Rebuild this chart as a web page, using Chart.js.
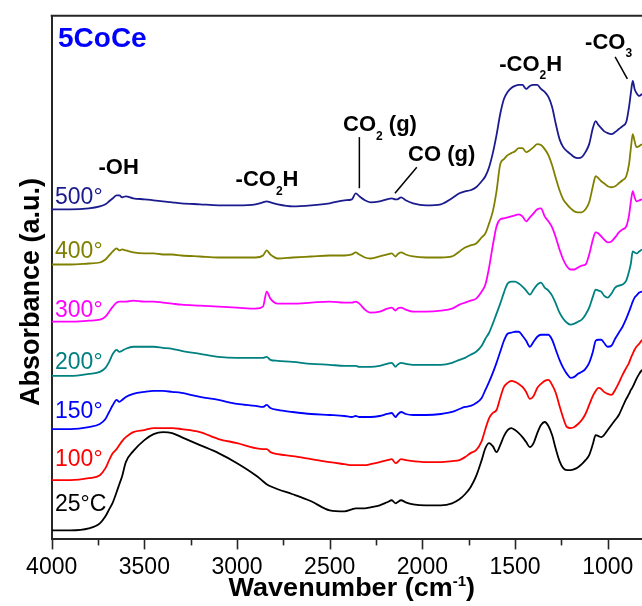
<!DOCTYPE html>
<html>
<head>
<meta charset="utf-8">
<title>5CoCe DRIFTS</title>
<script src="https://cdn.jsdelivr.net/npm/chart.js@4.4.1/dist/chart.umd.min.js"></script>
<style>
  html, body { margin: 0; padding: 0; background: #fff; overflow: hidden; }
  canvas { display: block; }
</style>
</head>
<body>
<canvas id="spectra" width="642" height="606"></canvas>
<script>
// wavenumber grid (cm-1), shared by every spectrum
const wavenumbers = [
  4000, 3900, 3800, 3740, 3710, 3690, 3670, 3650, 3635, 3620, 3600, 3560, 3500, 3450, 3400, 3350, 3300,
  3200, 3100, 3000, 2900, 2860, 2840, 2820, 2780, 2700, 2600, 2500,
  2420, 2380, 2360, 2340, 2310, 2280, 2230, 2190, 2165, 2145, 2135, 2115, 2090, 2050, 1980, 1900,
  1840, 1800, 1770, 1740, 1710, 1680, 1660, 1640, 1620, 1600,
  1580, 1560, 1540, 1520, 1500, 1480, 1460, 1440, 1420, 1400, 1380, 1360, 1340, 1320, 1300, 1280, 1260, 1240, 1220, 1200,
  1180, 1160, 1140, 1120, 1100, 1080,
  1065, 1050, 1035, 1020,
  1000, 980, 960, 940, 920,
  900, 885, 875, 865, 855, 845, 830, 815
];

// absorbance (a.u., stacked) for each temperature
const abs25 = [
  0.09, 0.09, 0.11, 0.16, 0.23, 0.30, 0.37, 0.47, 0.55, 0.63, 0.77, 0.88, 0.99, 1.05, 1.07, 1.06, 1.02,
  0.94, 0.86, 0.76, 0.64, 0.58, 0.55, 0.53, 0.50, 0.45, 0.38, 0.29,
  0.28, 0.30, 0.31, 0.31, 0.31, 0.32, 0.34, 0.37, 0.39, 0.36, 0.37, 0.39, 0.37, 0.35, 0.34, 0.34,
  0.36, 0.40, 0.45, 0.52, 0.63, 0.79, 0.91, 0.96, 0.93, 0.87,
  0.94, 1.03, 1.09, 1.11, 1.09, 1.06, 1.02, 0.97, 0.92, 0.96, 1.06, 1.14, 1.17, 1.13, 1.04, 0.90, 0.78, 0.71, 0.69, 0.69,
  0.70, 0.72, 0.75, 0.79, 0.84, 0.95,
  1.04, 1.03, 1.02, 1.04,
  1.09, 1.14, 1.19, 1.24, 1.32,
  1.40, 1.45, 1.49, 1.52, 1.56, 1.60, 1.65, 1.69
];
const abs100 = [
  0.59, 0.59, 0.61, 0.64, 0.71, 0.79, 0.86, 0.90, 0.94, 0.98, 1.02, 1.07, 1.09, 1.11, 1.11, 1.11, 1.10,
  1.07, 1.00, 0.96, 0.91, 0.90, 0.90, 0.87, 0.85, 0.83, 0.80, 0.77,
  0.75, 0.74, 0.74, 0.74, 0.74, 0.75, 0.77, 0.79, 0.80, 0.76, 0.77, 0.80, 0.79, 0.78, 0.77, 0.77,
  0.78, 0.79, 0.82, 0.86, 0.89, 0.98, 1.10, 1.21, 1.26, 1.29,
  1.41, 1.52, 1.56, 1.58, 1.57, 1.55, 1.52, 1.47, 1.40, 1.43, 1.51, 1.55, 1.58, 1.59, 1.54, 1.46, 1.33, 1.21, 1.12, 1.11,
  1.12, 1.15, 1.19, 1.25, 1.34, 1.43,
  1.48, 1.51, 1.50, 1.47,
  1.45, 1.44, 1.49, 1.56, 1.64,
  1.71, 1.76, 1.81, 1.85, 1.89, 1.92, 1.95, 1.99
];
const abs150 = [
  1.10, 1.10, 1.12, 1.15, 1.20, 1.27, 1.34, 1.39, 1.37, 1.39, 1.42, 1.45, 1.47, 1.48, 1.48, 1.47, 1.46,
  1.42, 1.39, 1.35, 1.33, 1.32, 1.34, 1.31, 1.29, 1.27, 1.25, 1.24,
  1.23, 1.22, 1.23, 1.22, 1.22, 1.22, 1.23, 1.25, 1.26, 1.22, 1.24, 1.27, 1.25, 1.24, 1.24, 1.25,
  1.27, 1.30, 1.32, 1.33, 1.36, 1.41, 1.49, 1.57, 1.66, 1.76,
  1.87, 1.98, 2.05, 2.06, 2.07, 2.07, 2.03, 1.98, 1.92, 1.97, 2.02, 2.04, 2.04, 2.04, 1.99, 1.89, 1.79, 1.71, 1.65, 1.61,
  1.62, 1.65, 1.67, 1.70, 1.76, 1.87,
  1.98, 1.99, 1.99, 1.96,
  1.92, 1.93, 2.00, 2.06, 2.12,
  2.20, 2.27, 2.32, 2.37, 2.41, 2.43, 2.46, 2.47
];
const abs200 = [
  1.63, 1.63, 1.65, 1.67, 1.71, 1.77, 1.85, 1.89, 1.87, 1.88, 1.90, 1.92, 1.92, 1.92, 1.91, 1.90, 1.88,
  1.85, 1.82, 1.81, 1.81, 1.81, 1.82, 1.79, 1.78, 1.77, 1.75, 1.74,
  1.73, 1.73, 1.73, 1.72, 1.72, 1.72, 1.73, 1.75, 1.76, 1.72, 1.74, 1.76, 1.75, 1.74, 1.74, 1.74,
  1.76, 1.79, 1.81, 1.84, 1.87, 1.93, 2.00, 2.06, 2.15, 2.25,
  2.35, 2.46, 2.55, 2.57, 2.57, 2.55, 2.52, 2.48, 2.44, 2.49, 2.54, 2.56, 2.51, 2.48, 2.43, 2.35, 2.26, 2.20, 2.16, 2.14,
  2.15, 2.17, 2.19, 2.24, 2.31, 2.42,
  2.49, 2.48, 2.47, 2.43,
  2.41, 2.45, 2.51, 2.53, 2.54,
  2.58, 2.67, 2.75, 2.87, 2.86, 2.85, 2.87, 2.89
];
const abs300 = [
  2.17, 2.17, 2.18, 2.19, 2.22, 2.27, 2.32, 2.36, 2.37, 2.37, 2.37, 2.38, 2.37, 2.37, 2.36, 2.35, 2.34,
  2.33, 2.32, 2.31, 2.30, 2.32, 2.47, 2.40, 2.35, 2.35, 2.36, 2.37,
  2.36, 2.36, 2.37, 2.35, 2.29, 2.26, 2.27, 2.30, 2.31, 2.28, 2.30, 2.31, 2.29, 2.27, 2.27, 2.28,
  2.30, 2.34, 2.36, 2.38, 2.40, 2.47, 2.54, 2.71, 2.93, 3.12,
  3.19, 3.20, 3.21, 3.22, 3.23, 3.24, 3.22, 3.17, 3.21, 3.25, 3.29, 3.30, 3.22, 3.17, 3.11, 3.01, 2.89, 2.79, 2.72, 2.69,
  2.69, 2.71, 2.73, 2.74, 2.84, 2.99,
  3.06, 3.05, 3.02, 2.99,
  2.96, 2.97, 3.01, 3.06, 3.09,
  3.12, 3.23, 3.37, 3.47, 3.41, 3.37, 3.38, 3.39
];
const abs400 = [
  2.74, 2.74, 2.75, 2.76, 2.79, 2.83, 2.87, 2.90, 2.88, 2.89, 2.88, 2.86, 2.85, 2.85, 2.84, 2.84, 2.83,
  2.82, 2.81, 2.81, 2.81, 2.83, 2.88, 2.84, 2.80, 2.81, 2.82, 2.83,
  2.83, 2.84, 2.86, 2.84, 2.81, 2.80, 2.82, 2.84, 2.85, 2.82, 2.84, 2.86, 2.84, 2.82, 2.81, 2.81,
  2.82, 2.87, 2.91, 2.93, 2.95, 3.01, 3.05, 3.15, 3.27, 3.47,
  3.74, 3.79, 3.83, 3.85, 3.87, 3.90, 3.90, 3.86, 3.88, 3.91, 3.94, 3.93, 3.89, 3.83, 3.73, 3.60, 3.48, 3.39, 3.34, 3.30,
  3.27, 3.26, 3.26, 3.29, 3.36, 3.52,
  3.62, 3.60, 3.57, 3.55,
  3.52, 3.51, 3.52, 3.55, 3.58,
  3.62, 3.74, 3.90, 4.04, 3.97, 3.91, 3.92, 3.94
];
const abs500 = [
  3.29, 3.29, 3.30, 3.32, 3.34, 3.37, 3.40, 3.43, 3.43, 3.41, 3.42, 3.40, 3.39, 3.38, 3.37, 3.36, 3.35,
  3.34, 3.33, 3.33, 3.34, 3.36, 3.37, 3.36, 3.34, 3.32, 3.33, 3.35,
  3.38, 3.39, 3.45, 3.42, 3.38, 3.36, 3.37, 3.39, 3.40, 3.39, 3.39, 3.41, 3.38, 3.35, 3.33, 3.34,
  3.40, 3.45, 3.47, 3.48, 3.51, 3.57, 3.62, 3.71, 3.85, 4.03,
  4.24, 4.39, 4.46, 4.50, 4.52, 4.53, 4.53, 4.49, 4.52, 4.53, 4.53, 4.49, 4.46, 4.41, 4.31, 4.14, 3.99, 3.91, 3.87, 3.84,
  3.81, 3.80, 3.81, 3.86, 3.94, 4.10,
  4.17, 4.13, 4.10, 4.07,
  4.05, 4.04, 4.06, 4.09, 4.12,
  4.16, 4.31, 4.45, 4.57, 4.49, 4.45, 4.42, 4.44
];

const temperatures = ["25°C", "100°", "150°", "200°", "300°", "400°", "500°"];
const spectra = [abs25, abs100, abs150, abs200, abs300, abs400, abs500];
const xTicks = [1000, 1250, 1500, 1750, 2000, 2250, 2500, 2750, 3000, 3250, 3500, 3750, 4000];

const lineColors = ["#000000", "#ff0000", "#0000ff", "#008080", "#ff00ff", "#808000", "#1b1b8e"];
const FONT = "'Liberation Sans', Arial, sans-serif";
const AXIS = "#262626";

// label anchors are given in (wavenumber, absorbance) so they sit on the scales
const tempLabelAt = [0.28, 0.73, 1.21, 1.70, 2.22, 2.80, 3.34];

const bandLabels = [
  { parts: [["-OH"]], w: 3639, v: 3.64, align: "center" },
  { parts: [["-CO"], ["2", "sub"], ["H"]], w: 3008, v: 3.52, align: "left" },
  { parts: [["CO"], ["2", "sub"], [" (g)"]], w: 2428, v: 4.07, align: "left" },
  { parts: [["CO (g)"]], w: 2077, v: 3.77, align: "left" },
  { parts: [["-CO"], ["2", "sub"], ["H"]], w: 1585, v: 4.67, align: "left" },
  { parts: [["-CO"], ["3", "sub"]], w: 1122, v: 4.89, align: "left" }
];
const leaderLines = [
  [2340, 4.01, 2340, 3.50],
  [2030, 3.71, 2148, 3.45],
  [960, 4.81, 894, 4.59]
];

// bold text made of runs, with sub/superscript runs set smaller
function drawParts(ctx, parts, x, y, size, align, stretch = 1) {
  const big = `bold ${size}px ${FONT}`;
  const small = `bold ${Math.round(size * 0.56)}px ${FONT}`;
  let total = 0;
  parts.forEach(([t, kind]) => {
    ctx.font = kind ? small : big;
    total += ctx.measureText(t).width;
  });
  ctx.save();
  ctx.translate(x, y);
  ctx.scale(stretch, 1);
  let cx = align === "center" ? -total / 2 : 0;
  ctx.textAlign = "left";
  ctx.textBaseline = "alphabetic";
  parts.forEach(([t, kind]) => {
    ctx.font = kind ? small : big;
    let dy = 0;
    if (kind === "sub") dy = size * 0.39;
    if (kind === "sup") dy = -size * 0.42;
    ctx.fillText(t, cx, dy);
    cx += ctx.measureText(t).width;
  });
  ctx.restore();
}

const decorations = {
  id: "decorations",
  afterDraw(chart) {
    const { ctx, chartArea, scales } = chart;
    const xs = scales.x, ys = scales.y;
    ctx.save();

    // top frame line
    ctx.strokeStyle = AXIS;
    ctx.lineWidth = 2;
    ctx.beginPath();
    ctx.moveTo(chartArea.left - 1, chartArea.top);
    ctx.lineTo(chartArea.right, chartArea.top);
    ctx.stroke();

    // outward tick marks, long at labelled values
    ctx.lineWidth = 1.6;
    xTicks.forEach((w) => {
      const px = Math.round(xs.getPixelForValue(w)) + 0.5;
      const len = w % 500 === 0 ? 10 : 6;
      ctx.beginPath();
      ctx.moveTo(px, chartArea.bottom);
      ctx.lineTo(px, chartArea.bottom + len);
      ctx.stroke();
    });

    // temperature labels
    ctx.font = `23px ${FONT}`;
    ctx.textAlign = "left";
    ctx.textBaseline = "alphabetic";
    temperatures.forEach((t, i) => {
      ctx.fillStyle = lineColors[i];
      ctx.fillText(t, xs.getPixelForValue(3982), ys.getPixelForValue(tempLabelAt[i]));
    });

    // sample name
    ctx.fillStyle = "#0000ff";
    ctx.font = `bold 28px ${FONT}`;
    ctx.fillText("5CoCe", xs.getPixelForValue(3966), ys.getPixelForValue(4.91));

    // band assignments
    ctx.fillStyle = "#000";
    bandLabels.forEach((b) => {
      drawParts(ctx, b.parts, xs.getPixelForValue(b.w), ys.getPixelForValue(b.v), 22, b.align);
    });
    ctx.strokeStyle = "#000";
    ctx.lineWidth = 1.5;
    leaderLines.forEach(([w1, v1, w2, v2]) => {
      ctx.beginPath();
      ctx.moveTo(xs.getPixelForValue(w1), ys.getPixelForValue(v1));
      ctx.lineTo(xs.getPixelForValue(w2), ys.getPixelForValue(v2));
      ctx.stroke();
    });

    // axis titles
    drawParts(ctx, [["Wavenumber (cm"], ["-1", "sup"], [")"]],
      (chartArea.left + chartArea.right) / 2 + 5, 596, 25, "center", 1.08);
    ctx.save();
    ctx.translate(29, 292);
    ctx.rotate(-Math.PI / 2);
    drawParts(ctx, [["Absorbance (a.u.)"]], 0, 10, 27, "center");
    ctx.restore();

    ctx.restore();
  }
};

new Chart(document.getElementById("spectra"), {
  type: "line",
  data: {
    datasets: spectra.map((vals, i) => ({
      label: temperatures[i],
      data: wavenumbers.map((w, j) => ({ x: w, y: vals[j] })),
      borderColor: lineColors[i],
      borderWidth: 1.8,
      pointRadius: 0,
      cubicInterpolationMode: "monotone",
      fill: false
    }))
  },
  options: {
    responsive: false,
    animation: false,
    devicePixelRatio: 1,
    layout: { padding: { left: 51.7, top: 15.7, right: 0, bottom: 11 } },
    plugins: { legend: { display: false }, tooltip: { enabled: false } },
    scales: {
      x: {
        type: "linear",
        reverse: true,
        min: 815,
        max: 4000,
        grid: { display: false, drawTicks: false },
        border: { display: true, color: AXIS, width: 2 },
        afterBuildTicks: (scale) => {
          scale.ticks = xTicks.map((value) => ({ value }));
        },
        afterFit: (scale) => {
          // the plot runs to the right edge, labels never need extra room
          scale.paddingLeft = 0;
          scale.paddingRight = 0;
        },
        ticks: {
          autoSkip: false,
          maxRotation: 0,
          padding: 14,
          color: "#000",
          font: { family: FONT, size: 23 },
          callback: (v) => (v % 500 === 0 ? String(v) : "")
        }
      },
      y: {
        min: 0,
        max: 5.22,
        grid: { display: false, drawTicks: false },
        border: { display: true, color: AXIS, width: 2 },
        ticks: { display: false }
      }
    }
  },
  plugins: [decorations]
});
</script>
</body>
</html>
